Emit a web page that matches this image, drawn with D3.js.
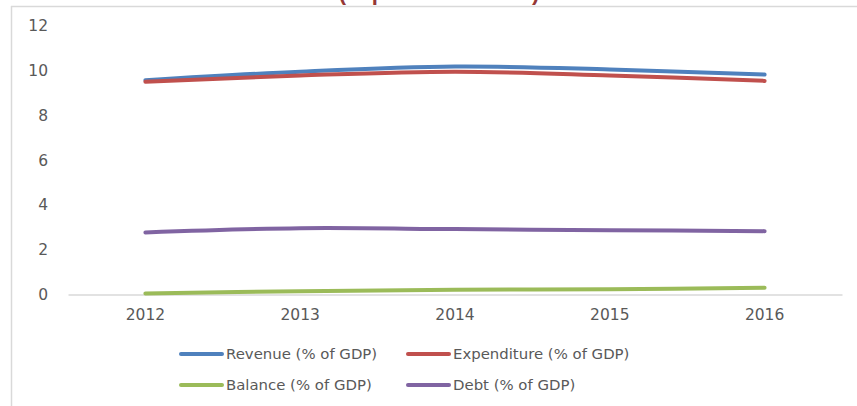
<!DOCTYPE html>
<html>
<head>
<meta charset="utf-8">
<script src="https://cdn.jsdelivr.net/npm/d3@7"></script>
<style>
  html, body { margin: 0; padding: 0; background: #fff; }
  svg { display: block; }
</style>
</head>
<body>
<svg id="chart" width="857" height="406"></svg>
<script>
const years = ["2012", "2013", "2014", "2015", "2016"];
const revenue = [9.57, 9.95, 10.18, 10.05, 9.82];
const expenditure = [9.50, 9.78, 9.95, 9.78, 9.54];
const balance = [0.05, 0.15, 0.21, 0.24, 0.30];
const debt = [2.77, 2.96, 2.92, 2.87, 2.83];
const yTicks = [0, 2, 4, 6, 8, 10, 12];
const seriesNames = ["Revenue (% of GDP)", "Expenditure (% of GDP)", "Balance (% of GDP)", "Debt (% of GDP)"];
const seriesColors = ["#4f81bd", "#c0504d", "#9bbb59", "#8064a2"];
const titleText = "(in percent of GDP)";

const seriesValues = [revenue, expenditure, balance, debt];
const svg = d3.select("#chart");
const font = "'DejaVu Sans', sans-serif";
const textColor = "#595959";

// frame
svg.append("line").attr("x1", 11.5).attr("x2", 11.5).attr("y1", 6).attr("y2", 406)
  .attr("stroke", "#d9d9d9").attr("stroke-width", 1.5);
svg.append("line").attr("x1", 11).attr("x2", 857).attr("y1", 6.5).attr("y2", 6.5)
  .attr("stroke", "#d9d9d9").attr("stroke-width", 1.5);

// title (its upper part lies above the picture, as in the reference)
svg.append("text").attr("x", 439).attr("y", 0).attr("text-anchor", "middle")
  .attr("font-family", "'Liberation Sans', sans-serif").attr("font-weight", "bold")
  .attr("font-size", 22).attr("fill", "#953735").text(titleText);

const x = d3.scaleBand().domain(years).range([68, 842]);
const y = d3.scaleLinear().domain([0, 12]).range([294.5, 25.8]);

// y axis labels
const yAxis = d3.axisLeft(y).tickValues(yTicks).tickSize(0).tickPadding(0).tickFormat(d3.format("d"));
const gy = svg.append("g").attr("transform", "translate(48,0)").call(yAxis);
gy.select(".domain").remove();
gy.selectAll("text").attr("font-family", font).attr("font-size", 15.5).attr("fill", textColor);

// x axis
const xAxis = d3.axisBottom(x).tickSize(0).tickPadding(14);
const gx = svg.append("g").attr("transform", `translate(0,${y(0)})`).call(xAxis);
gx.select(".domain").attr("stroke", "#d9d9d9").attr("stroke-width", 1.5);
gx.selectAll("text").attr("font-family", font).attr("font-size", 15.5).attr("fill", textColor);

// lines
const line = d3.line()
  .x((d, i) => x(years[i]) + x.bandwidth() / 2)
  .y(d => y(d))
  .curve(d3.curveCatmullRom.alpha(0.5));

seriesValues.forEach((vals, k) => {
  svg.append("path").datum(vals).attr("d", line)
    .attr("fill", "none").attr("stroke", seriesColors[k])
    .attr("stroke-width", 4).attr("stroke-linecap", "round").attr("stroke-linejoin", "round");
});

// legend
const legendPos = [[181, 354], [408, 354], [181, 385], [408, 385]];
seriesNames.forEach((name, k) => {
  const [lx, ly] = legendPos[k];
  const g = svg.append("g").attr("transform", `translate(${lx},${ly})`);
  g.append("line").attr("x1", 0).attr("x2", 41).attr("y1", 0).attr("y2", 0)
    .attr("stroke", seriesColors[k]).attr("stroke-width", 4).attr("stroke-linecap", "round");
  g.append("text").attr("x", 45).attr("y", 0).attr("dy", "0.35em")
    .attr("font-family", font).attr("font-size", 14.9).attr("fill", textColor).text(name);
});
</script>
</body>
</html>
